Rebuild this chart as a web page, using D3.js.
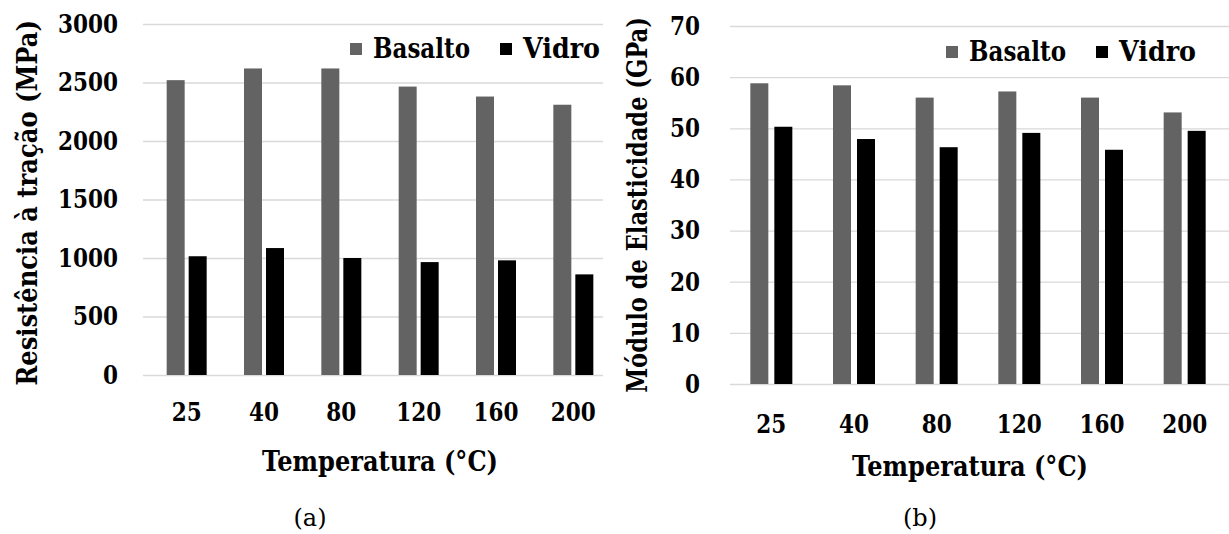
<!DOCTYPE html>
<meta charset="utf-8">
<head>
    <style>
        body { margin: 0; background: #fff; }
    </style>
</head>
<body>
    <div id="chart"></div>

    <script src="https://d3js.org/d3.v7.min.js"></script>
    <script>
        // data
        let temperatures = ['25', '40', '80', '120', '160', '200'];
        let series = ['Basalto', 'Vidro'];
        let tensile_basalto = [2520, 2620, 2620, 2465, 2380, 2310];
        let tensile_vidro = [1015, 1085, 1000, 965, 980, 860];
        let modulus_basalto = [58.8, 58.4, 56.0, 57.2, 56.0, 53.1];
        let modulus_vidro = [50.3, 47.9, 46.3, 49.1, 45.8, 49.5];
        let tensile_ticks = [0, 500, 1000, 1500, 2000, 2500, 3000];
        let modulus_ticks = [0, 10, 20, 30, 40, 50, 60, 70];

        let colors = {Basalto: '#636363', Vidro: '#000000'};
        let serif = "'DejaVu Serif', 'Liberation Serif', serif";

        let svg = d3.select('#chart')
                    .append('svg')
                    .attr('width', 1229)
                    .attr('height', 534);

        // bold serif text, optionally squeezed to a measured width
        function heavy(sel, size, len) {
            sel.attr('font-family', serif)
                .attr('font-size', size)
                .attr('font-weight', 'bold')
                .attr('fill', '#000');
            if (len) sel.attr('textLength', len).attr('lengthAdjust', 'spacingAndGlyphs');
            return sel;
        }

        // one panel = gridlines + bars + axes + legend
        function draw_panel(cfg) {
            let g = svg.append('g');

            let y = d3.scaleLinear()
                .domain([0, cfg.ymax])
                .range([cfg.y0, cfg.y1]);

            let x = d3.scaleBand()
                .domain(temperatures)
                .range(cfg.xrange);

            let xs = d3.scaleBand()
                .domain(series)
                .range([-cfg.half, cfg.half])
                .paddingInner(cfg.pad);

            // y axis with gridlines
            let yaxis = g.append('g')
                .attr('transform', `translate(${cfg.gridx[0]}, 0)`)
                .call(d3.axisLeft(y)
                    .tickValues(cfg.ticks)
                    .tickFormat(d3.format('d'))
                    .tickSize(-(cfg.gridx[1] - cfg.gridx[0]))
                    .tickPadding(cfg.tickpad));
            yaxis.select('.domain').remove();
            yaxis.selectAll('line').attr('stroke', '#d9d9d9').attr('stroke-width', 1.3);
            heavy(yaxis.selectAll('text'), 26)
                .attr('textLength', d => String(d).length * 15)
                .attr('lengthAdjust', 'spacingAndGlyphs');

            // bars
            let rows = temperatures.map((t, i) => ({t: t, Basalto: cfg.a[i], Vidro: cfg.b[i]}));
            let groups = g.selectAll('.grp')
                .data(rows)
                .enter()
                .append('g')
                .attr('transform', d => `translate(${x(d.t) + x.bandwidth() / 2}, 0)`);
            groups.selectAll('rect')
                .data(d => series.map(s => ({s: s, v: d[s]})))
                .enter()
                .append('rect')
                .attr('x', d => xs(d.s))
                .attr('width', xs.bandwidth())
                .attr('y', d => y(d.v))
                .attr('height', d => y(0) - y(d.v))
                .style('fill', d => colors[d.s]);

            // x axis
            let xaxis = g.append('g')
                .attr('transform', `translate(0, ${cfg.y0})`)
                .call(d3.axisBottom(x).tickSize(0));
            xaxis.select('.domain').remove();
            heavy(xaxis.selectAll('text'), 26)
                .attr('textLength', d => d.length * 15)
                .attr('lengthAdjust', 'spacingAndGlyphs')
                .attr('y', cfg.xlab_y - cfg.y0)
                .attr('dy', null);

            // axis titles
            heavy(g.append('text'), 27, 236)
                .attr('x', cfg.xtitle[0])
                .attr('y', cfg.xtitle[1])
                .attr('text-anchor', 'middle')
                .text('Temperatura  (\u00B0C)');

            // y title: squeeze along its length with a scale so its box stays inside the page
            let yt = heavy(g.append('text'), 27)
                .attr('text-anchor', 'middle')
                .text(cfg.ytext);
            let k = cfg.ytitle[2] / yt.node().getComputedTextLength();
            yt.attr('transform', `translate(${cfg.ytitle[0]}, ${cfg.ytitle[1]}) rotate(-90) scale(${k}, 1)`);

            // legend
            let leg = g.append('g')
                .attr('transform', `translate(${cfg.legend[0]}, ${cfg.legend[1]})`);
            let offs = [0, 150];
            let lens = [97, 77];
            series.forEach((s, i) => {
                leg.append('rect')
                    .attr('x', offs[i])
                    .attr('y', -15)
                    .attr('width', 12)
                    .attr('height', 12)
                    .style('fill', colors[s]);
                heavy(leg.append('text'), 27, lens[i])
                    .attr('x', offs[i] + 23)
                    .attr('y', 0)
                    .text(s);
            });

            // panel caption
            svg.append('text')
                .attr('x', cfg.caption[0])
                .attr('y', cfg.caption[1])
                .attr('text-anchor', 'middle')
                .attr('font-family', serif)
                .attr('font-size', 24)
                .text(cfg.caption[2]);
        }

        draw_panel({
            a: tensile_basalto, b: tensile_vidro,
            ymax: 3000, ticks: tensile_ticks,
            y0: 375, y1: 24,
            xrange: [148, 612], gridx: [143, 603], tickpad: 25,
            half: 20, pad: 0.1818,
            xlab_y: 421, xtitle: [380, 471],
            ytitle: [37, 203, 366], ytext: 'Resistência à tração  (MPa)',
            legend: [350, 58],
            caption: [310, 526, '(a)']
        });

        draw_panel({
            a: modulus_basalto, b: modulus_vidro,
            ymax: 70, ticks: modulus_ticks,
            y0: 384, y1: 26,
            xrange: [730, 1226], gridx: [730, 1229], tickpad: 30,
            half: 21, pad: 0.25,
            xlab_y: 433, xtitle: [970, 476],
            ytitle: [647, 205, 376], ytext: 'Módulo de Elasticidade  (GPa)',
            legend: [946, 61],
            caption: [920, 526, '(b)']
        });
    </script>
</body>
